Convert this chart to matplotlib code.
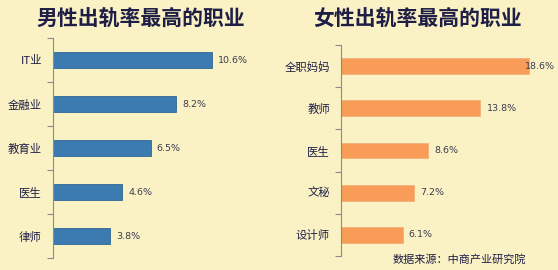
# Recreate: male / female occupations with highest infidelity rates
import numpy as np
import matplotlib.pyplot as plt
from matplotlib.ticker import FixedLocator

plt.rcParams['font.family'] = ['Noto Sans CJK SC', 'DejaVu Sans']
plt.rcParams['axes.unicode_minus'] = False

# data
male_jobs = ['IT业', '金融业', '教育业', '医生', '律师']
male_rates = [10.6, 8.2, 6.5, 4.6, 3.8]
female_jobs = ['全职妈妈', '教师', '医生', '文秘', '设计师']
female_rates = [18.6, 13.8, 8.6, 7.2, 6.1]

male_title = '男性出轨率最高的职业'
female_title = '女性出轨率最高的职业'
source_text = '数据来源：中商产业研究院'

BG = '#FAF2C4'
NAVY = '#1E1E46'
W, H = 558, 270

fig = plt.figure(figsize=(W / 100, H / 100), dpi=100, facecolor=BG)


def px_axes(x0, y_top, x1, y_bot):
    return fig.add_axes([x0 / W, 1 - y_bot / H, (x1 - x0) / W, (y_bot - y_top) / H])


def draw_panel(ax, jobs, rates, color, edge, xmax, title, title_x):
    n = len(jobs)
    y = np.arange(n)
    ax.barh(y, rates, height=0.37, color=color, edgecolor=edge, linewidth=0.6)
    ax.set_ylim(n - 0.5, -0.5)
    ax.set_xlim(0, xmax)
    ax.set_facecolor(BG)
    for s in ['top', 'right', 'bottom']:
        ax.spines[s].set_visible(False)
    ax.spines['left'].set_color('#8C8C8C')
    ax.spines['left'].set_linewidth(0.8)
    ax.set_xticks([])
    ax.set_yticks(y)
    ax.set_yticklabels(jobs, fontsize=8.2, color=NAVY)
    ax.tick_params(axis='y', which='major', length=0, pad=8)
    ax.yaxis.set_minor_locator(FixedLocator(np.arange(n + 1) - 0.5))
    ax.tick_params(axis='y', which='minor', length=4, color='#8C8C8C', width=0.8)
    top = max(rates)
    for yi, v in zip(y, rates):
        off = -3 if (v == top and v / xmax > 0.85) else 4.5
        ax.annotate(f'{v:.1f}%', xy=(v, yi), xytext=(off, 0),
                    textcoords='offset points', va='center', ha='left',
                    fontsize=6.8, color='#3C3C50', family='DejaVu Sans')
    fig.text(title_x / W, 1 - 18 / H, title, ha='center', va='center',
             fontsize=15, fontweight='bold', color=NAVY)


ax1 = px_axes(53, 38, 278, 258)
draw_panel(ax1, male_jobs, male_rates, '#3B7BB0', '#2E6796', 15.0, male_title, 141)

ax2 = px_axes(341, 45, 556, 256)
draw_panel(ax2, female_jobs, female_rates, '#F89C57', '#F2B07A', 21.3, female_title, 418)

fig.text(526 / W, 1 - 259 / H, source_text, ha='right', va='center',
         fontsize=8, color=NAVY)

fig.savefig('out.png', dpi=100, facecolor=BG)
plt.close(fig)
